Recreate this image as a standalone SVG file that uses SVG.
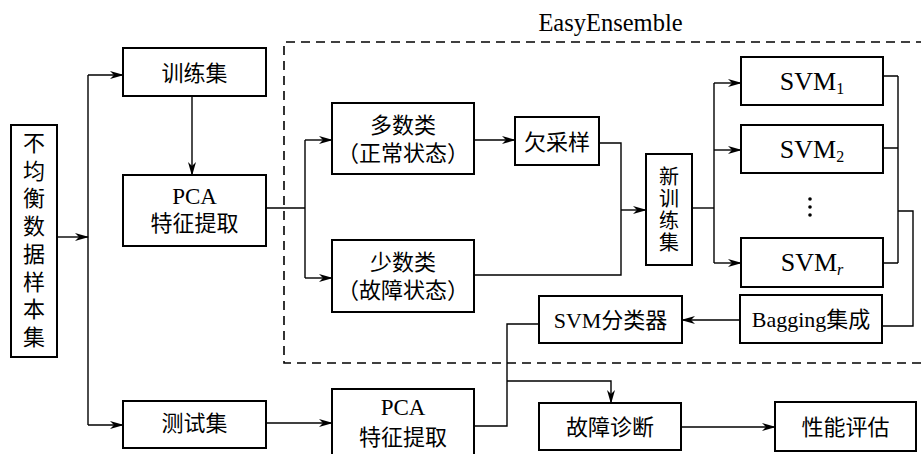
<svg xmlns="http://www.w3.org/2000/svg" width="921" height="454" viewBox="0 0 921 454">
<style>
.box{fill:#fff;stroke:#000;stroke-width:2}
.ln{fill:none;stroke:#000;stroke-width:1.4}
.ar{fill:none;stroke:#000;stroke-width:1.4;marker-end:url(#ah)}
.t{font-family:"Liberation Serif","Noto Sans CJK SC",serif;font-size:22px;fill:#000;text-anchor:middle}
.s{font-size:26px}
.v{font-size:20px}
.p{font-size:23px}
</style>
<defs>
<marker id="ah" markerUnits="userSpaceOnUse" markerWidth="14" markerHeight="10" viewBox="0 0 14 10" refX="13" refY="5" orient="auto">
<path d="M0,1 L14,5 L0,9 L4,5 z" fill="#000"/>
</marker>
</defs>
<rect width="921" height="454" fill="#fff"/>
<path d="M925,42 H284 V363 H925" fill="none" stroke="#000" stroke-width="1.6" stroke-dasharray="9,6"/>
<text class="t" x="610.5" y="31" style="font-size:24.5px">EasyEnsemble</text>
<g id="connectors">
<path class="ar" d="M57,237 H88"/>
<path class="ln" d="M88,75 V425"/>
<path class="ar" d="M88,75 H123"/>
<path class="ar" d="M88,425 H123"/>
<path class="ar" d="M192,96 V175"/>
<path class="ln" d="M266,208 H305"/>
<path class="ln" d="M305,140 V278"/>
<path class="ar" d="M305,140 H332"/>
<path class="ar" d="M305,278 H332"/>
<path class="ar" d="M474,140 H515"/>
<path class="ln" d="M599,143 H621 V275 H474"/>
<path class="ar" d="M621,210 H646"/>
<path class="ln" d="M692,208 H714"/>
<path class="ln" d="M714,83 V263"/>
<path class="ar" d="M714,83 H741"/>
<path class="ar" d="M714,150 H741"/>
<path class="ar" d="M714,263 H741"/>
<path class="ln" d="M883,76 H898 M883,148 H898 M883,263 H898 M898,76 V263"/>
<path class="ln" d="M898,211 H913 V326 H882"/>
<path class="ar" d="M740,320 H682"/>
<path class="ln" d="M539,324 H507 V426 H474"/>
<path class="ar" d="M507,381 H611 V403"/>
<path class="ar" d="M266,423 H332"/>
<path class="ar" d="M681,427 H775"/>
</g>
<g id="n-sample">
<rect class="box" x="11" y="125" width="46" height="232"/>
<text class="t" x="34" y="151">不</text>
<text class="t" x="34" y="179">均</text>
<text class="t" x="34" y="206">衡</text>
<text class="t" x="34" y="234">数</text>
<text class="t" x="34" y="262">据</text>
<text class="t" x="34" y="290">样</text>
<text class="t" x="34" y="317">本</text>
<text class="t" x="34" y="345">集</text>
</g>
<g id="n-train">
<rect class="box" x="123" y="48" width="143" height="48"/>
<text class="t" x="194.5" y="81">训练集</text>
</g>
<g id="n-pca1">
<rect class="box" x="123" y="175" width="143" height="71"/>
<text class="t p" x="194.5" y="204">PCA</text>
<text class="t" x="194.5" y="231">特征提取</text>
</g>
<g id="n-major">
<rect class="box" x="332" y="103" width="142" height="71"/>
<text class="t" x="403" y="133">多数类</text>
<text class="t" x="403" y="161">（正常状态）</text>
</g>
<g id="n-minor">
<rect class="box" x="332" y="240" width="142" height="72"/>
<text class="t" x="403" y="270">少数类</text>
<text class="t" x="403" y="298">（故障状态）</text>
</g>
<g id="n-under">
<rect class="box" x="515" y="117" width="84" height="48"/>
<text class="t" x="557" y="150">欠采样</text>
</g>
<g id="n-newtrain">
<rect class="box" x="646" y="154" width="46" height="111"/>
<text class="t v" x="669" y="184">新</text>
<text class="t v" x="669" y="206">训</text>
<text class="t v" x="669" y="228">练</text>
<text class="t v" x="669" y="250">集</text>
</g>
<g id="n-svm1">
<rect class="box" x="741" y="57" width="142" height="48"/>
<text class="t s" x="812" y="90">SVM<tspan font-size="16" dy="4">1</tspan></text>
</g>
<g id="n-svm2">
<rect class="box" x="741" y="125" width="142" height="48"/>
<text class="t s" x="812" y="158">SVM<tspan font-size="16" dy="4">2</tspan></text>
</g>
<g id="n-dots">
<circle cx="810" cy="199" r="1.8"/>
<circle cx="810" cy="207" r="1.8"/>
<circle cx="810" cy="215" r="1.8"/>
</g>
<g id="n-svmr">
<rect class="box" x="741" y="238" width="142" height="49"/>
<text class="t s" x="812" y="271">SVM<tspan font-size="16" dy="4" font-style="italic">r</tspan></text>
</g>
<g id="n-bagging">
<rect class="box" x="740" y="295" width="142" height="48"/>
<text class="t" x="811" y="327">Bagging集成</text>
</g>
<g id="n-classifier">
<rect class="box" x="539" y="296" width="143" height="47"/>
<text class="t" x="610.5" y="328">SVM分类器</text>
</g>
<g id="n-test">
<rect class="box" x="123" y="401" width="143" height="47"/>
<text class="t" x="194.5" y="431">测试集</text>
</g>
<g id="n-pca2">
<rect class="box" x="332" y="389" width="142" height="66"/>
<text class="t p" x="403" y="415">PCA</text>
<text class="t" x="403" y="445">特征提取</text>
</g>
<g id="n-diag">
<rect class="box" x="539" y="403" width="142" height="47"/>
<text class="t" x="610" y="435">故障诊断</text>
</g>
<g id="n-eval">
<rect class="box" x="775" y="402" width="141" height="49"/>
<text class="t" x="845.5" y="435">性能评估</text>
</g>
</svg>
